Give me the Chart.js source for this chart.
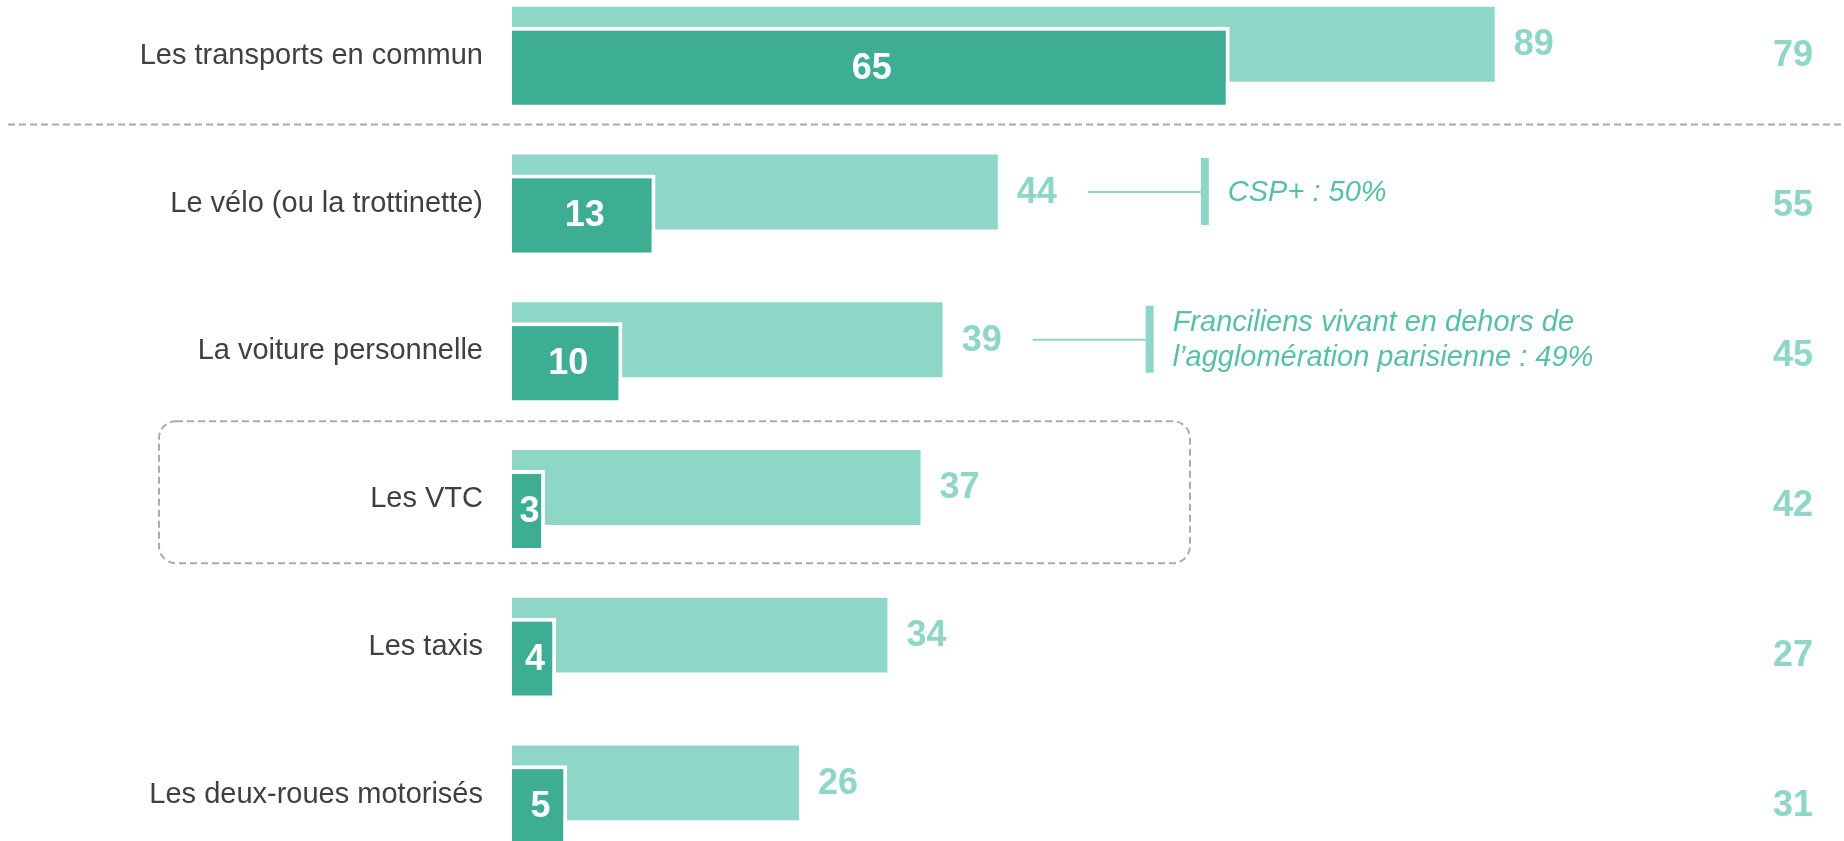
<!DOCTYPE html>
<html>
<head>
<meta charset="utf-8">
<script src="https://cdn.jsdelivr.net/npm/chart.js@4.4.1/dist/chart.umd.min.js"></script>
<style>
  html, body { margin: 0; padding: 0; background: #ffffff; }
  #wrap { width: 1844px; height: 841px; position: relative; }
</style>
</head>
<body>
<div id="wrap"><canvas id="chart" width="1844" height="841"></canvas></div>
<script>
// data
const categories = [
  "Les transports en commun",
  "Le vélo (ou la trottinette)",
  "La voiture personnelle",
  "Les VTC",
  "Les taxis",
  "Les deux-roues motorisés"
];
const totalValues = [89, 44, 39, 37, 34, 26];
const mainValues = [65, 13, 10, 3, 4, 5];
const previousValues = [79, 55, 45, 42, 27, 31];
const notes = [
  null,
  ["CSP+ : 50%"],
  ["Franciliens vivant en dehors de", "l’agglomération parisienne : 49%"],
  null,
  null,
  null
];
const highlightedRow = 3; // "Les VTC" gets the dashed frame

const LIGHT = "#8ED7C7";
const DARK = "#3DAD94";
const NOTE_TEXT = "#57C1A7";
const FONT = "'Liberation Sans', Arial, sans-serif";

// the dark bar overlaps the light one, so draw it last
const darkOnTop = {
  id: "darkOnTop",
  beforeDatasetDraw(chart, args) {
    if (args.index === 1 && !chart.$lateDraw) return false;
  },
  afterDatasetsDraw(chart) {
    chart.$lateDraw = true;
    chart.getDatasetMeta(1).controller.draw();
    chart.$lateDraw = false;
  }
};

const decorations = {
  id: "decorations",
  afterDraw(chart) {
    const ctx = chart.ctx;
    const x = chart.scales.x;
    const y = chart.scales.y;
    const light = chart.getDatasetMeta(0).data;
    const dark = chart.getDatasetMeta(1).data;
    ctx.save();

    // dashed separator under the first row
    const sepY = Math.round(y.getPixelForValue(0.46)) + 0.5;
    ctx.strokeStyle = "#ababab";
    ctx.lineWidth = 2;
    ctx.setLineDash([7, 4]);
    ctx.beginPath();
    ctx.moveTo(8, sepY);
    ctx.lineTo(chart.width, sepY);
    ctx.stroke();

    // dashed rounded frame around the highlighted row
    const hc = y.getPixelForValue(highlightedRow);
    ctx.beginPath();
    ctx.roundRect(159, hc - 78, x.getPixelForValue(61.4) - 159, 142, 17);
    ctx.stroke();
    ctx.setLineDash([]);

    ctx.textBaseline = "middle";

    // totals next to the light bars
    ctx.font = "bold 36px " + FONT;
    ctx.fillStyle = LIGHT;
    ctx.textAlign = "left";
    light.forEach((bar, i) => {
      ctx.fillText(String(totalValues[i]), bar.x + 19, bar.y + 1);
    });

    // values inside the dark bars
    ctx.fillStyle = "#ffffff";
    ctx.textAlign = "center";
    dark.forEach((bar, i) => {
      ctx.fillText(String(mainValues[i]), (bar.base + bar.x) / 2 + 1, bar.y + 1);
    });

    // right-hand column
    ctx.fillStyle = LIGHT;
    previousValues.forEach((v, i) => {
      ctx.fillText(String(v), 1793, y.getPixelForValue(i) + 2.3 * i);
    });

    // call-outs
    light.forEach((bar, i) => {
      const lines = notes[i];
      if (!lines) return;
      const cy = bar.y;
      const x0 = bar.x + 90;
      const x1 = bar.x + 203;
      ctx.strokeStyle = LIGHT;
      ctx.lineWidth = 2;
      ctx.beginPath();
      ctx.moveTo(x0, cy);
      ctx.lineTo(x1, cy);
      ctx.stroke();
      ctx.fillStyle = LIGHT;
      ctx.fillRect(x1, cy - 34, 8, 67);
      ctx.fillStyle = NOTE_TEXT;
      ctx.textAlign = "left";
      ctx.font = "italic 29px " + FONT;
      const step = 35;
      lines.forEach((t, k) => {
        ctx.fillText(t, x1 + 27, cy + 1 + (k - (lines.length - 1) / 2) * step);
      });
    });

    ctx.restore();
  }
};

new Chart(document.getElementById("chart"), {
  type: "bar",
  data: {
    labels: categories,
    datasets: [
      {
        label: "Total",
        data: totalValues,
        backgroundColor: LIGHT,
        borderWidth: 0,
        categoryPercentage: 0.318,
        barPercentage: 3.19,
        clip: false
      },
      {
        label: "Principal",
        data: mainValues,
        backgroundColor: DARK,
        borderColor: "#ffffff",
        borderWidth: 4,
        borderSkipped: "start",
        categoryPercentage: 0.318,
        barPercentage: 3.49,
        clip: false
      }
    ]
  },
  options: {
    indexAxis: "y",
    responsive: false,
    animation: false,
    layout: { padding: { top: 56, bottom: 46, left: 0, right: 7 } },
    plugins: {
      legend: { display: false },
      tooltip: { enabled: false }
    },
    scales: {
      x: { display: false, min: 0, max: 120 },
      y: {
        offset: false,
        grid: { display: false, drawTicks: false },
        border: { display: false },
        ticks: {
          autoSkip: false,
          color: "#404040",
          padding: 29,
          font: { family: FONT, size: 29 }
        },
        afterFit(scale) {
          scale.width = 512;
        }
      }
    }
  },
  plugins: [darkOnTop, decorations]
});
</script>
</body>
</html>
